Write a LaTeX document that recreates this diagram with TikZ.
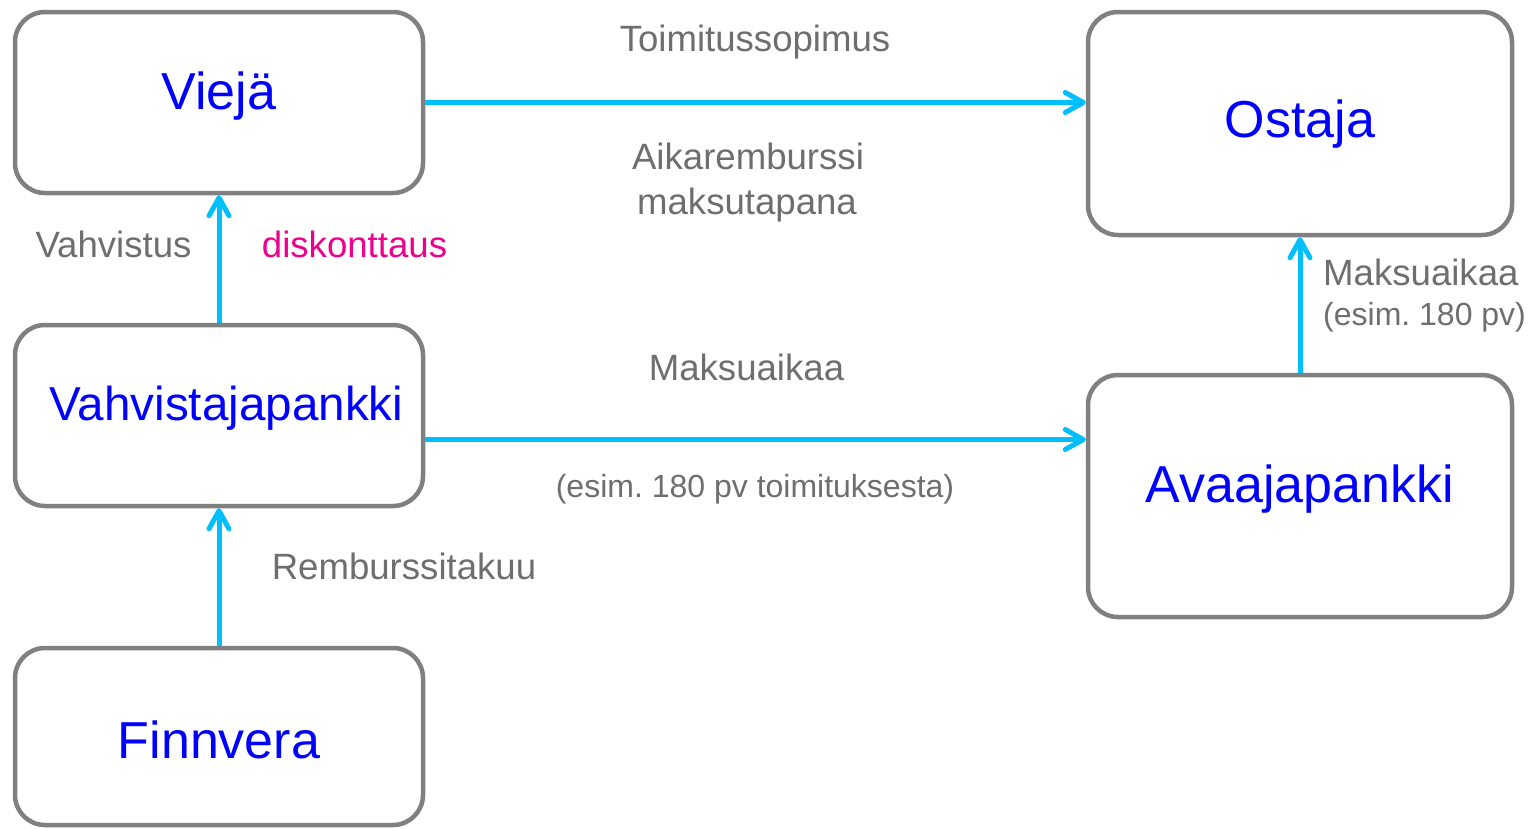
\documentclass[tikz,border=0pt]{standalone}
\usepackage{fontspec}
\setmainfont{Liberation Sans}
\usetikzlibrary{arrows.meta}
\definecolor{boxgray}{RGB}{128,128,128}
\definecolor{txtgray}{RGB}{110,110,110}
\definecolor{arrcyan}{RGB}{0,191,255}
\definecolor{pinkish}{RGB}{236,0,140}
\definecolor{nameblue}{RGB}{0,0,255}
\frenchspacing
\begin{document}
\begin{tikzpicture}[x=1pt,y=-1pt,
  box/.style={draw=boxgray, line width=4.5pt, rounded corners=30pt, rectangle, inner sep=0pt},
  flow/.style={draw=arrcyan, line width=5pt, -{Straight Barb[length=18pt,width=20pt,round]}},
  namelab/.style={text=nameblue, font=\fontsize{52}{60}\selectfont, anchor=base, inner sep=0pt},
  glab/.style={text=txtgray, font=\fontsize{36.6}{42}\selectfont, anchor=base, inner sep=0pt},
  slab/.style={text=txtgray, font=\fontsize{32}{38}\selectfont, anchor=base, inner sep=0pt}]
\useasboundingbox (0,0) rectangle (1531,828);
% boxes
\node[box, minimum width=408pt, minimum height=181pt] (viejae) at (219,102.5) {};
\node[box, minimum width=424pt, minimum height=223pt] (ostaja) at (1300,123.5) {};
\node[box, minimum width=408pt, minimum height=181pt] (vahv) at (219,415.5) {};
\node[box, minimum width=424pt, minimum height=242pt] (avaaja) at (1300,496) {};
\node[box, minimum width=408pt, minimum height=177pt] (finn) at (219,736.5) {};
% names
\node[namelab] (tviejae) at (219,109) {Viejä};
\node[namelab] (tostaja) at (1300,137) {Ostaja};
\node[namelab, font=\fontsize{47.6}{55}\selectfont] (tvahv) at (226.5,420) {Vahvistajapankki};
\node[namelab] (tavaaja) at (1300,502) {Avaajapankki};
\node[namelab] (tfinn) at (219,758) {Finnvera};
% connectors
\draw[flow] (viejae.east) -- (viejae.east -| ostaja.west);
\draw[flow] (vahv.north) -- (viejae.south);
\coordinate (m2) at ([yshift=-24pt]vahv.east);
\draw[flow] (m2) -- (m2 -| avaaja.west);
\draw[flow] (avaaja.north) -- (ostaja.south);
\draw[flow] (finn.north) -- (vahv.south);
% labels
\node[glab] (l1) at (755,51) {Toimitussopimus};
\node[glab] (l2) at (748,169) {Aikaremburssi};
\node[glab] (l3) at (747,214) {maksutapana};
\node[glab] (l4) at (113.5,257) {Vahvistus};
\node[glab, text=pinkish] (l5) at (354.5,257) {diskonttaus};
\node[glab] (l6) at (746.5,380) {Maksuaikaa};
\node[slab] (l7) at (755,497) {(esim. 180 pv toimituksesta)};
\node[glab] (l8) at (404,579) {Remburssitakuu};
\node[glab, anchor=base west] (l9) at (1323,285) {Maksuaikaa};
\node[slab, anchor=base west] (l10) at (1323,325) {(esim. 180 pv)};
\end{tikzpicture}
\end{document}
